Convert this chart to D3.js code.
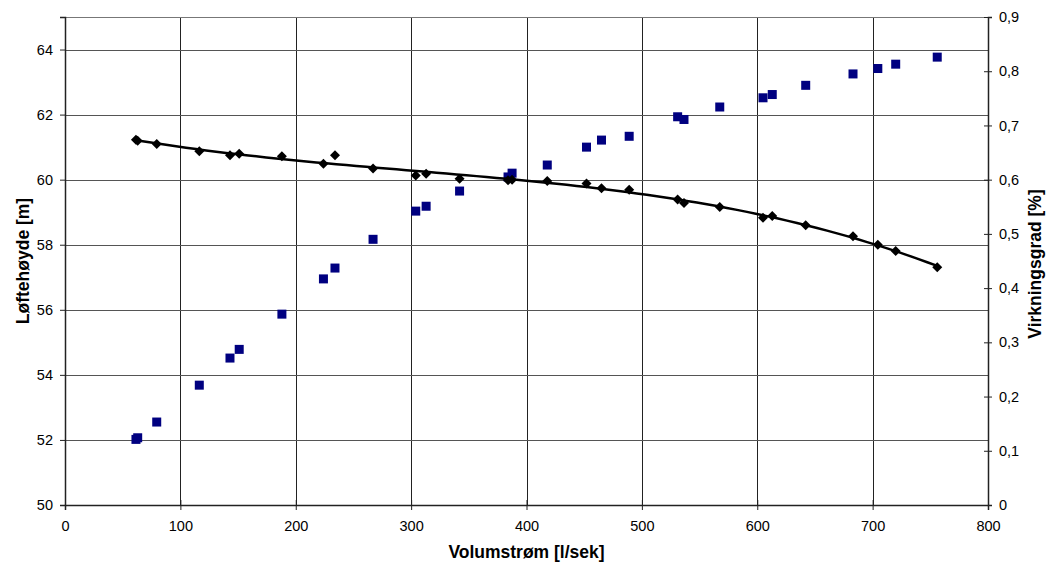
<html>
  <head>
    <style>
      body {
        margin: 0;
        background: #fff;
        font-family: "Liberation Sans", Arial, Helvetica, sans-serif;
      }
      svg {
        display: block;
      }
      .axis-title {
        font-size: 17.5px;
        font-weight: bold;
        text-anchor: middle;
      }
    </style>
  </head>
  <body>
    <script src="https://d3js.org/d3.v7.min.js"></script>
    <script>
      // volumstrøm [l/sek]
      const flow = [61.5, 63, 79.5, 116.4, 143, 151, 188, 224, 234, 267, 304, 313, 342, 384, 387.5,
        418, 452, 465, 489, 531, 536.5, 567.5, 605, 613, 642, 683, 704.5, 720, 756];
      // løftehøyde [m]
      const head = [61.23, 61.2, 61.1, 60.87, 60.75, 60.8, 60.72, 60.49, 60.75, 60.34, 60.13, 60.18,
        60.03, 59.98, 60.0, 59.96, 59.88, 59.74, 59.69, 59.39, 59.28, 59.16, 58.83, 58.88, 58.6,
        58.26, 58.0, 57.81, 57.31];
      // virkningsgrad
      const efficiency = [0.121, 0.124, 0.153, 0.221, 0.271, 0.287, 0.352, 0.417, 0.437, 0.49,
        0.542, 0.551, 0.579, 0.605, 0.612, 0.627, 0.66, 0.673, 0.68, 0.716, 0.711, 0.734, 0.751,
        0.757, 0.774, 0.795, 0.805, 0.813, 0.826];

      const xTicks = [0, 100, 200, 300, 400, 500, 600, 700, 800];
      const leftTicks = [50, 52, 54, 56, 58, 60, 62, 64];
      const rightTicks = [0, 0.1, 0.2, 0.3, 0.4, 0.5, 0.6, 0.7, 0.8, 0.9];

      const width = 1047, height = 565;
      const plotLeft = 65, plotRight = 988, plotTop = 17, plotBottom = 505;

      const x = d3.scaleLinear().domain([0, 800]).range([plotLeft, plotRight]);
      const yL = d3.scaleLinear().domain([50, 65]).range([plotBottom, plotTop]);
      const yR = d3.scaleLinear().domain([0, 0.9]).range([plotBottom, plotTop]);

      const svg = d3.select("body").append("svg")
        .attr("width", width)
        .attr("height", height);

      // gridlines
      const grid = svg.append("g");
      xTicks.slice(1, -1).forEach((t) => {
        grid.append("line")
          .attr("x1", Math.round(x(t)) + 0.5).attr("x2", Math.round(x(t)) + 0.5)
          .attr("y1", plotTop).attr("y2", plotBottom)
          .attr("stroke", "#222");
      });
      leftTicks.slice(1).forEach((t) => {
        grid.append("line")
          .attr("x1", plotLeft).attr("x2", plotRight)
          .attr("y1", Math.round(yL(t)) + 0.5).attr("y2", Math.round(yL(t)) + 0.5)
          .attr("stroke", "#555");
      });
      grid.append("line")
        .attr("x1", plotLeft).attr("x2", plotRight)
        .attr("y1", plotTop + 0.5).attr("y2", plotTop + 0.5)
        .attr("stroke", "#777");

      // axes
      const xAxis = d3.axisBottom(x).tickValues(xTicks).tickSize(5).tickFormat(d3.format("d"));
      const leftAxis = d3.axisLeft(yL).tickValues(leftTicks).tickSize(5).tickFormat(d3.format("d"));
      const rightAxis = d3.axisRight(yR).tickValues(rightTicks).tickSize(4)
        .tickFormat((d) => (d === 0 ? "0" : d3.format(".1f")(d).replace(".", ",")));

      function styleAxis(g) {
        g.select(".domain").attr("stroke", "#222").attr("stroke-width", 1.5);
        g.selectAll(".tick line").attr("stroke", "#222");
        g.selectAll(".tick text")
          .attr("fill", "#000")
          .style("font-family", "'Liberation Sans', Arial, sans-serif")
          .style("font-size", "14.5px");
      }

      svg.append("g")
        .attr("transform", `translate(0,${plotBottom})`)
        .call(xAxis)
        .call((g) => g.selectAll(".tick line").attr("y1", -5))
        .call((g) => g.selectAll(".tick text").attr("y", 16))
        .call(styleAxis);

      svg.append("g")
        .attr("transform", `translate(${plotLeft},0)`)
        .call(leftAxis)
        .call((g) => g.selectAll(".tick text").attr("x", -12))
        .call(styleAxis);

      svg.append("g")
        .attr("transform", `translate(${plotRight},0)`)
        .call(rightAxis)
        .call((g) => g.selectAll(".tick line").attr("x1", -4))
        .call((g) => g.selectAll(".tick text").attr("x", 11))
        .call(styleAxis);

      // polynomial trend line (order 3) for head, least squares
      function polyFit(xs, ys, order) {
        const m = order + 1;
        const sc = d3.max(xs);
        const A = d3.range(m).map(() => new Array(m + 1).fill(0));
        xs.forEach((xv, i) => {
          const u = xv / sc;
          for (let r = 0; r < m; r++) {
            for (let c = 0; c < m; c++) A[r][c] += Math.pow(u, r + c);
            A[r][m] += Math.pow(u, r) * ys[i];
          }
        });
        for (let i = 0; i < m; i++) {
          for (let j = i + 1; j < m; j++) {
            const f = A[j][i] / A[i][i];
            for (let k = i; k <= m; k++) A[j][k] -= f * A[i][k];
          }
        }
        const coef = new Array(m).fill(0);
        for (let i = m - 1; i >= 0; i--) {
          let v = A[i][m];
          for (let k = i + 1; k < m; k++) v -= A[i][k] * coef[k];
          coef[i] = v / A[i][i];
        }
        return (xv) => coef.reduce((s, cf, k) => s + cf * Math.pow(xv / sc, k), 0);
      }
      const fit = polyFit(flow, head, 3);
      const x0 = d3.min(flow), x1 = d3.max(flow);
      const trend = d3.range(0, 81).map((i) => x0 + (x1 - x0) * i / 80);

      // efficiency squares
      svg.append("g")
        .selectAll("rect")
        .data(flow)
        .join("rect")
        .attr("x", (d) => x(d) - 4.5)
        .attr("y", (d, i) => yR(efficiency[i]) - 4.5)
        .attr("width", 9)
        .attr("height", 9)
        .attr("fill", "#000080");

      svg.append("path")
        .datum(trend)
        .attr("fill", "none")
        .attr("stroke", "#000")
        .attr("stroke-width", 2.5)
        .attr("d", d3.line().x((d) => x(d)).y((d) => yL(fit(d))));

      // head diamonds
      svg.append("g")
        .selectAll("path")
        .data(flow)
        .join("path")
        .attr("transform", (d, i) => `translate(${x(d)},${yL(head[i])})`)
        .attr("d", "M0,-5L5,0L0,5L-5,0Z")
        .attr("fill", "#000");

      // titles
      svg.append("text")
        .attr("class", "axis-title")
        .attr("x", (plotLeft + plotRight) / 2)
        .attr("y", 558)
        .text("Volumstrøm [l/sek]");

      svg.append("text")
        .attr("class", "axis-title")
        .attr("transform", `translate(29,${(plotTop + plotBottom) / 2}) rotate(-90)`)
        .text("Løftehøyde [m]");

      svg.append("text")
        .attr("class", "axis-title")
        .attr("transform", `translate(1041,${(plotTop + plotBottom) / 2 + 3}) rotate(-90)`)
        .text("Virkningsgrad [%]");
    </script>
  </body>
</html>
